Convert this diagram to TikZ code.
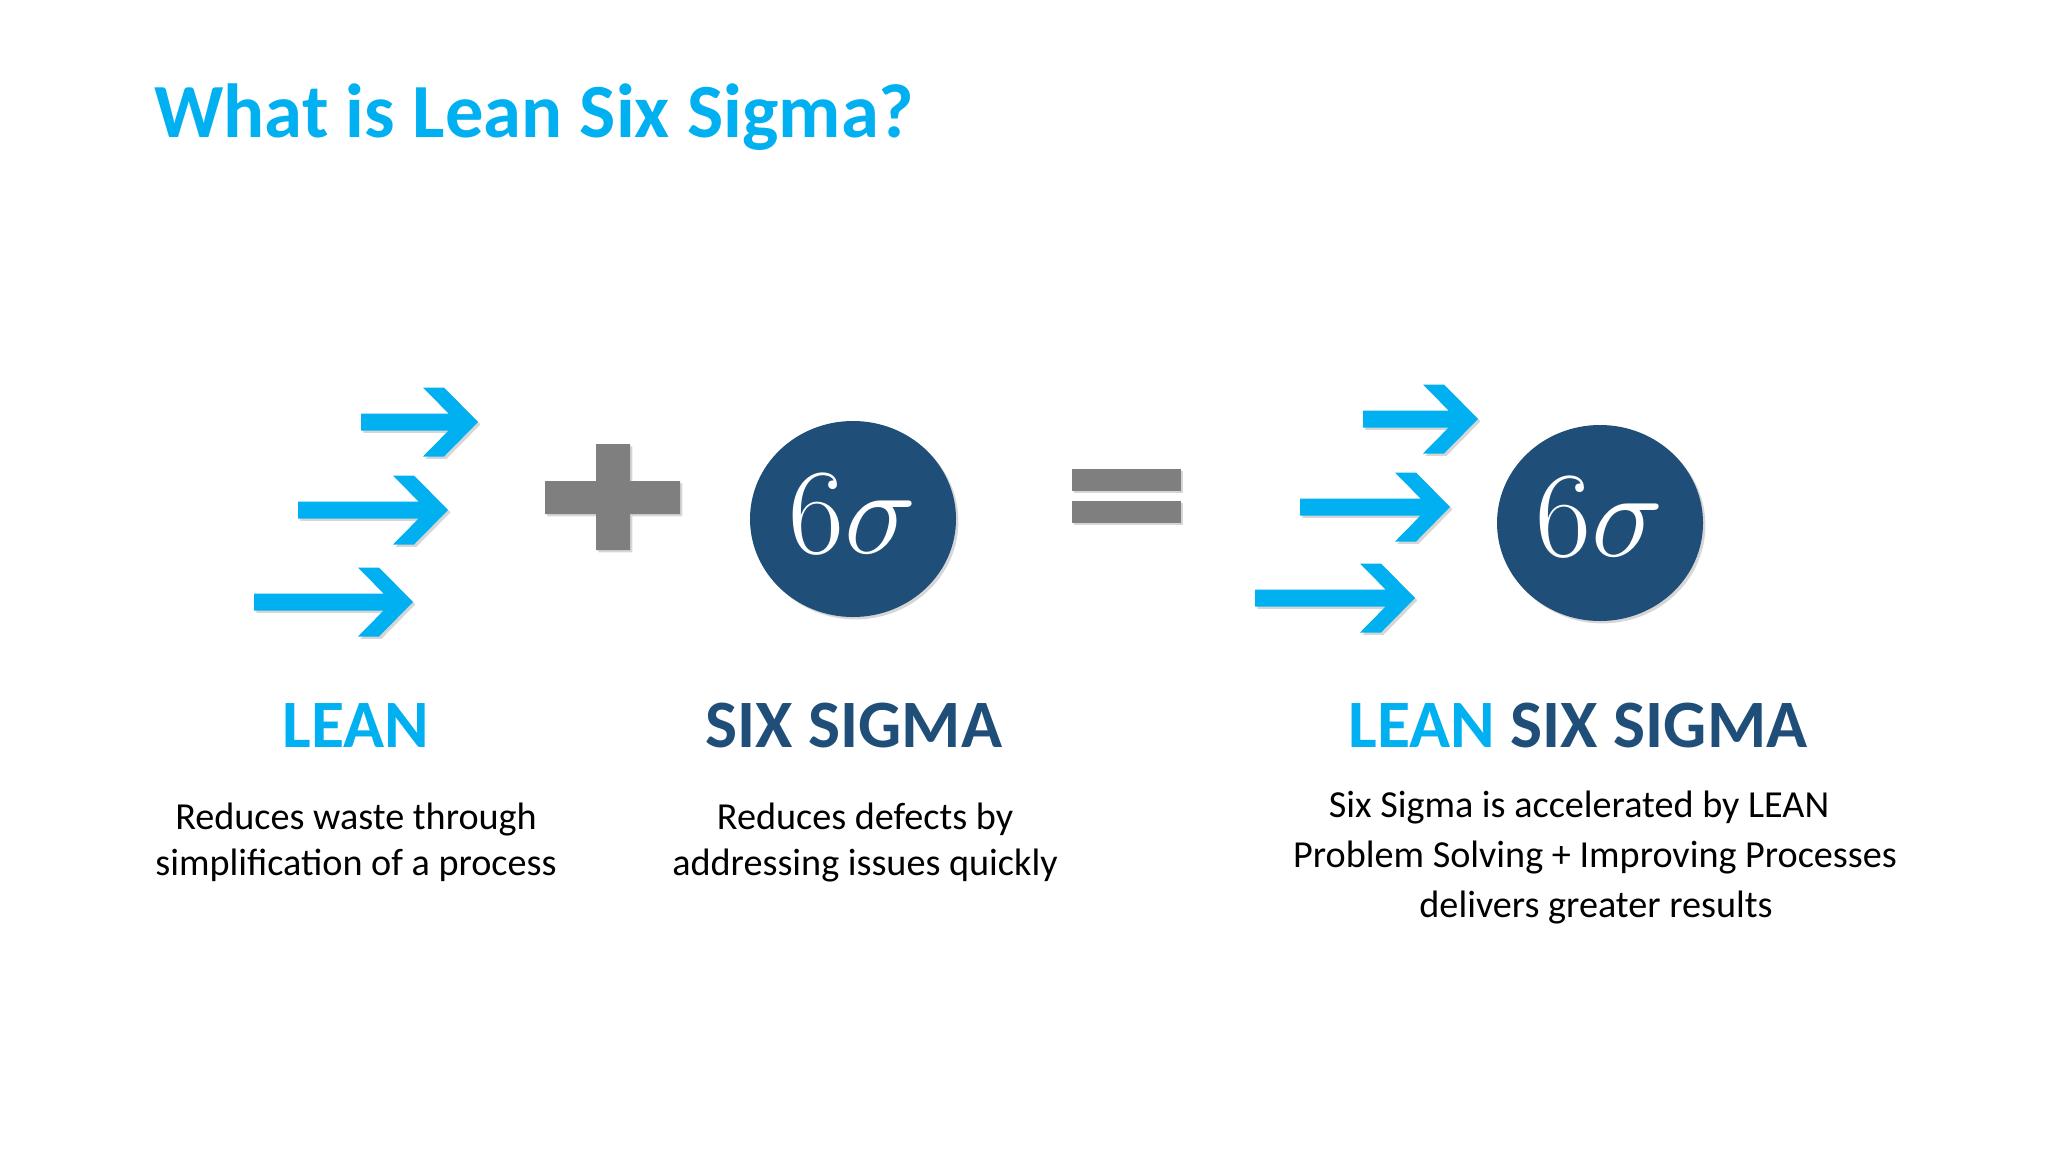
\RequirePackage{fix-cm}
\documentclass[tikz,border=0pt]{standalone}
\usepackage[no-math]{fontspec}
\setmainfont{Carlito}
\usetikzlibrary{shadows}
\definecolor{lblue}{HTML}{00B0F0}
\definecolor{dblue}{HTML}{1F4E79}
\definecolor{plusgray}{HTML}{7F7F7F}
\tikzset{
  softshadow/.style={drop shadow={shadow xshift=1.2pt, shadow yshift=-1.2pt, opacity=0.16, fill=black}},
  arrowfill/.style={fill=lblue, softshadow},
  grayfill/.style={fill=plusgray, softshadow},
  titlestyle/.style={text=lblue, font=\fontsize{38.3}{46}\selectfont\bfseries, inner sep=0pt},
  labelstyle/.style={font=\fontsize{33.9}{40}\selectfont\bfseries, inner sep=0pt},
  bodystyle/.style={text=black, font=\fontsize{19.1}{23}\selectfont, inner sep=0pt},
  sigcircle/.style={ellipse, fill=dblue, minimum width=103pt, minimum height=98pt, inner sep=0pt, softshadow},
  sigtext/.style={text=white, font=\fontsize{61}{62}\selectfont, inner sep=0pt},
}
\usetikzlibrary{shapes.geometric}
% #1 shaft left x, #2 centre y, #3 tip x
\newcommand{\speedarrow}[3]{%
  \fill[arrowfill] (#1,#2-8.5) -- (#3-29.4,#2-8.5) -- (#3-55,#2-34.5) -- (#3-34,#2-34.5)
    -- (#3,#2) -- (#3-34,#2+34.5) -- (#3-55,#2+34.5) -- (#3-29.4,#2+8.5) -- (#1,#2+8.5) -- cycle;
}
\begin{document}
\begin{tikzpicture}[x=0.5pt, y=-0.5pt]
\useasboundingbox[fill=white] (0,0) rectangle (2048,1152);

\node[titlestyle, anchor=base west] (title) at (154,137) {What is Lean Six Sigma?};

% LEAN arrows
\speedarrow{361}{422}{478}
\speedarrow{298}{510}{448}
\speedarrow{254}{602}{413}

% plus sign
\fill[grayfill] (545,481) -- (596,481) -- (596,444) -- (630,444) -- (630,481) -- (680,481)
  -- (680,514) -- (630,514) -- (630,550) -- (596,550) -- (596,514) -- (545,514) -- cycle;

% six sigma circle
\node[sigcircle] (sig1) at (853,519) {};
\node[sigtext, anchor=base] (sig1t) at (853,553) {$6\sigma$};

% equals sign
\fill[grayfill] (1072,469) rectangle (1181,491);
\fill[grayfill] (1072,501) rectangle (1181,523);

% LEAN SIX SIGMA arrows
\speedarrow{1363}{419}{1478}
\speedarrow{1300}{507}{1450}
\speedarrow{1255}{598}{1415}

\node[sigcircle] (sig2) at (1600,523) {};
\node[sigtext, anchor=base] (sig2t) at (1600,556) {$6\sigma$};

% headings
\node[labelstyle, text=lblue, anchor=base] (lean) at (356,747) {LEAN};
\node[labelstyle, text=dblue, anchor=base] (sixsig) at (854,747) {SIX SIGMA};
\node[labelstyle, anchor=base] (lss) at (1578,747) {\textcolor{lblue}{LEAN} \textcolor{dblue}{SIX SIGMA}};

% descriptions
\node[bodystyle, anchor=base] (leanA) at (356,829) {Reduces waste through};
\node[bodystyle, anchor=base] (leanB) at (356,875) {simplification of a process};
\node[bodystyle, anchor=base] (sixA) at (865,829) {Reduces defects by};
\node[bodystyle, anchor=base] (sixB) at (865,875) {addressing issues quickly};
\node[bodystyle, anchor=base] (lssA) at (1579,817) {Six Sigma is accelerated by LEAN};
\node[bodystyle, anchor=base] (lssB) at (1595,867) {Problem Solving + Improving Processes};
\node[bodystyle, anchor=base] (lssC) at (1596,917) {delivers greater results};
\end{tikzpicture}
\end{document}
